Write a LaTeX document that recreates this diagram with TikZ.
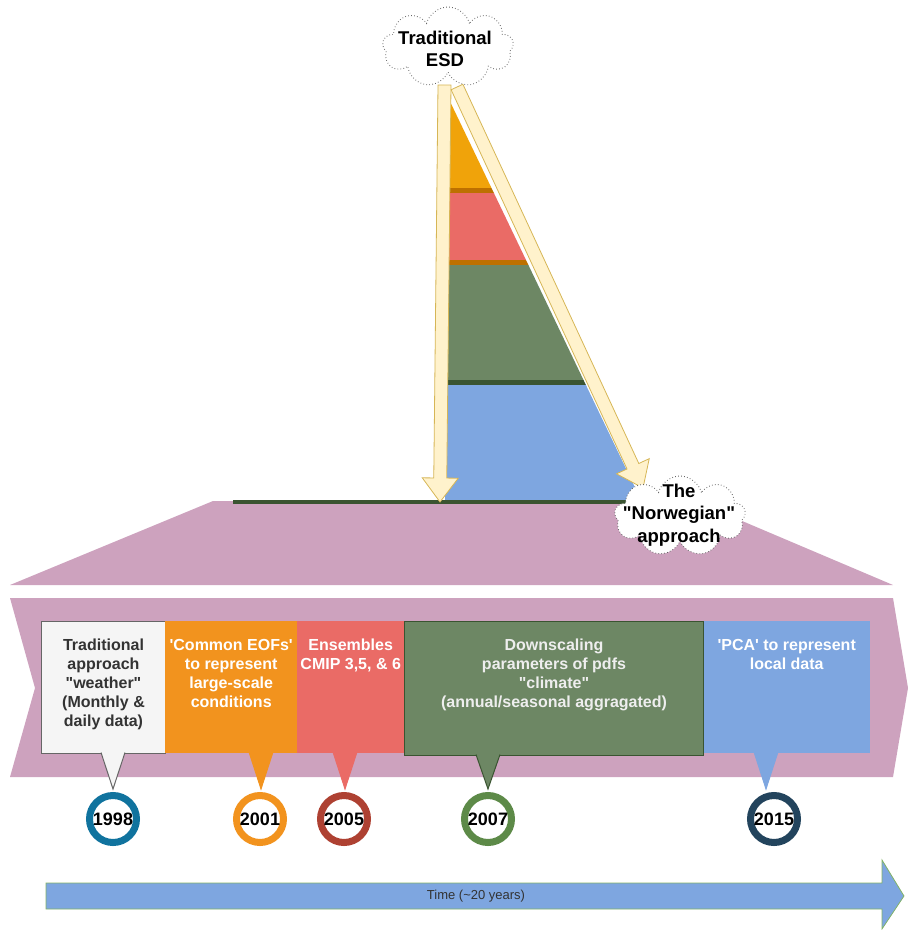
\documentclass[tikz,border=0pt]{standalone}
\usepackage{fontspec}
\newfontfamily\diagfont{Liberation Sans}
\usetikzlibrary{shapes.symbols}
\usetikzlibrary{calc}
\usetikzlibrary{positioning}
\definecolor{bandpink}{HTML}{CDA2BE}
\definecolor{boxgrey}{HTML}{F5F5F5}
\definecolor{greyline}{HTML}{666666}
\definecolor{darktxt}{HTML}{333333}
\definecolor{lighttxt}{HTML}{EEEEEE}
\definecolor{boxorange}{HTML}{F2931E}
\definecolor{boxred}{HTML}{EA6B66}
\definecolor{boxgreen}{HTML}{6D8764}
\definecolor{greenline}{HTML}{3A5431}
\definecolor{boxblue}{HTML}{7EA6E0}
\definecolor{funorange}{HTML}{F0A30A}
\definecolor{funband}{HTML}{BD7000}
\definecolor{arrowfill}{HTML}{FFF2CC}
\definecolor{arrowline}{HTML}{D6B656}
\definecolor{timeline}{HTML}{82B366}
\definecolor{ring1}{HTML}{10739E}
\definecolor{ring2}{HTML}{F2931E}
\definecolor{ring3}{HTML}{AE4132}
\definecolor{ring4}{HTML}{5D8A48}
\definecolor{ring5}{HTML}{23445D}
\tikzstyle{callbox} = [anchor=north west, minimum height=132pt, inner sep=0pt]
\tikzstyle{boxtxt} = [inner sep=0pt, align=center, text=white, font=\diagfont\fontsize{16}{19}\selectfont\bfseries]
\tikzstyle{yearring} = [circle, line width=7pt, fill=white, minimum size=47pt, inner sep=0pt, font=\diagfont\fontsize{18}{20}\selectfont\bfseries]
\tikzstyle{thought} = [cloud, cloud puffs=9, cloud ignores aspect, draw=greyline, line width=0.9pt, dash pattern=on 0.7pt off 2.3pt, fill=white, minimum width=131pt, minimum height=80pt, inner sep=0pt]
\tikzstyle{thoughttxt} = [inner sep=0pt, align=center, font=\diagfont\fontsize{18.5}{22.5}\selectfont\bfseries]
\tikzstyle{bigarrow} = [fill=arrowfill, draw=arrowline, line width=0.8pt]
\tikzstyle{timearrow} = [fill=boxblue, draw=timeline, line width=0.8pt]
% block arrow from #1 to #2
\newcommand{\blockarrow}[2]{%
  \coordinate (hb) at ($(#2)!24pt!(#1)$);
  \draw[bigarrow] ($(#1)!6.5pt!90:(#2)$) -- ($(hb)!6.5pt!90:(#2)$) -- ($(hb)!18pt!90:(#2)$)
    -- (#2) -- ($(hb)!18pt!-90:(#2)$) -- ($(hb)!6.5pt!-90:(#2)$) -- ($(#1)!6.5pt!-90:(#2)$) -- cycle;
}

\begin{document}
\begin{tikzpicture}[x=1pt,y=1pt]
\useasboundingbox (0,0) rectangle (908,-930);

% funnel
\fill[bandpink] (213,-501) -- (695,-501) -- (893,-585) -- (10,-585) -- cycle;
\begin{scope}
\clip (445,-91) -- (445,-502) -- (642,-502) -- cycle;
\fill[funorange] (440,-80) rectangle (650,-188);
\fill[funband] (440,-188) rectangle (650,-193);
\fill[boxred] (440,-193) rectangle (650,-260);
\fill[funband] (440,-260) rectangle (650,-265);
\fill[boxgreen] (440,-265) rectangle (650,-380);
\fill[greenline] (440,-380) rectangle (650,-385);
\fill[boxblue] (440,-385) rectangle (650,-502);
\end{scope}
\fill[greenline] (233,-500) rectangle (630,-504);

\coordinate (esdL) at (444.5,-85);
\coordinate (landL) at (440,-502);
\coordinate (esdR) at (457,-87);
\coordinate (norwTip) at (643,-488);
\blockarrow{esdL}{landL}
\blockarrow{esdR}{norwTip}

\node[thought] (esd) at (448,-47) {};
\node[thoughttxt] (esdtxt) at (445,-49) {Traditional\\ESD};
\node[thought] (norw) at (680,-516) {};
\node[thoughttxt] (norwtxt) at (679,-515) {The\\"Norwegian"\\approach};

% timeline band
\fill[bandpink] (10,-598) -- (893,-598) -- (908,-688) -- (893,-777) -- (10,-777) -- (35,-688) -- cycle;

\node[callbox, fill=boxgrey, draw=greyline, line width=1pt, minimum width=124pt] (b1998) at (41,-621) {};
\node[callbox, fill=boxorange, minimum width=132pt] (b2001) at (165,-621) {};
\node[callbox, fill=boxred, minimum width=107pt] (b2005) at (297,-621) {};
\node[callbox, fill=boxblue, minimum width=167pt] (b2015) at (703,-621) {};
\node[callbox, fill=boxgreen, draw=greenline, line width=1pt, minimum width=299pt, minimum height=134pt] (b2007) at (404,-621) {};

\node[boxtxt, text=darktxt, below=18pt of b1998.north] (t1998) {Traditional\\approach\\"weather"\\(Monthly \&\\daily data)};
\node[boxtxt, below=18pt of b2001.north] (t2001) {'Common EOFs'\\to represent\\large-scale\\conditions};
\node[boxtxt, below=18pt of b2005.north] (t2005) {Ensembles\\CMIP 3,5, \& 6};
\node[boxtxt, text=lighttxt, below=18pt of b2007.north] (t2007) {Downscaling\\parameters of pdfs\\"climate"\\(annual/seasonal aggragated)};
\node[boxtxt, below=18pt of b2015.north] (t2015) {'PCA' to represent\\local data};

% years
\foreach \yr/\x/\col in {1998/113/ring1, 2001/260/ring2, 2005/344/ring3, 2007/488/ring4, 2015/774/ring5}{
  \node[yearring, draw=\col] (y\yr) at (\x,-819) {\yr};
}
\foreach \yr/\dx/\fc/\dc in {1998/0/boxgrey/greyline, 2001/1/boxorange/boxorange, 2005/1/boxred/boxred, 2007/0/boxgreen/greenline, 2015/-8/boxblue/boxblue}{
  \path[fill=\fc, draw=\dc, line width=1pt] ($(y\yr |- b\yr.south)+(\dx-12,1.5)$) -- ($(y\yr.north)+(\dx,3)$) -- ($(y\yr |- b\yr.south)+(\dx+12,1.5)$);
}

% time axis
\draw[timearrow] (46,-883) -- (882,-883) -- (882,-860) -- (904,-896) -- (882,-929) -- (882,-909) -- (46,-909) -- cycle;
\node[font=\diagfont\fontsize{13}{15}\selectfont, text=darktxt] (timetxt) at (476,-896) {Time (\textasciitilde 20 years)};
\end{tikzpicture}
\end{document}
